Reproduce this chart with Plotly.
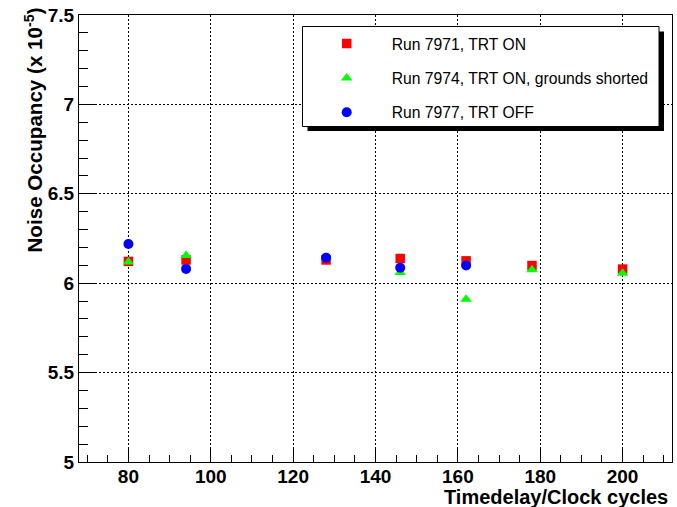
import plotly.graph_objects as go

# ---- data ----
x_7971 = [80, 94, 128, 146, 162, 178, 200]
y_7971 = [6.122, 6.130, 6.130, 6.138, 6.125, 6.099, 6.079]

x_7974 = [80, 94, 128, 146, 162, 178, 200]
y_7974 = [6.118, 6.155, 6.145, 6.060, 5.910, 6.075, 6.056]

x_7977 = [80, 94, 128, 146, 162]
y_7977 = [6.219, 6.080, 6.143, 6.086, 6.099]

names = ["Run 7971, TRT ON", "Run 7974, TRT ON, grounds shorted", "Run 7977, TRT OFF"]

W, H = 677, 507
L, R, T, B = 79, 5, 15, 45
PW, PH = W - L - R, H - T - B

def px(xp):
    return (xp - L) / PW

def py(yp):
    return (H - B - yp) / PH

FONT = "Liberation Sans, Arial, Helvetica, sans-serif"

fig = go.Figure()
fig.add_trace(go.Scatter(x=x_7971, y=y_7971, mode="markers", name=names[0], legendgroup="a",
                         marker=dict(symbol="square", size=9.5, color="#ff0000")))
fig.add_trace(go.Scatter(x=x_7974, y=y_7974, mode="markers", name=names[1], legendgroup="b",
                         marker=dict(symbol="triangle-up", size=10, color="#00ff00")))
fig.add_trace(go.Scatter(x=x_7977, y=y_7977, mode="markers", name=names[2], legendgroup="c",
                         marker=dict(symbol="circle", size=10, color="#0000ff")))

axis_common = dict(showline=True, linecolor="black", linewidth=1, mirror=True,
                   ticks="inside", tickcolor="black", tickwidth=1,
                   showgrid=True, gridcolor="black", gridwidth=1, griddash="2px,2px",
                   zeroline=False, automargin=False,
                   tickfont=dict(family=FONT, size=19, color="black", weight="bold"))

fig.update_xaxes(range=[68, 212], tick0=80, dtick=20, ticklen=13, ticklabelstandoff=-3,
                 minor=dict(ticks="inside", dtick=5, ticklen=7, tickcolor="black", showgrid=False),
                 **axis_common)
fig.update_yaxes(range=[5, 7.5], tick0=5, dtick=0.5, ticklen=18,
                 minor=dict(ticks="inside", dtick=0.1, ticklen=9, tickcolor="black", showgrid=False),
                 **axis_common)

# legend box with shadow
fig.add_shape(type="rect", xref="paper", yref="paper", layer="above",
              x0=px(307.5), x1=px(664), y0=py(131), y1=py(31.5),
              fillcolor="black", line=dict(width=0))
fig.add_shape(type="rect", xref="paper", yref="paper", layer="above",
              x0=px(302.5), x1=px(659), y0=py(126.5), y1=py(26.5),
              fillcolor="white", line=dict(color="black", width=1))

fig.add_annotation(text="Timedelay/Clock cycles", xref="paper", yref="paper",
                   x=px(670), y=py(497), xanchor="right", yanchor="middle", showarrow=False,
                   font=dict(family=FONT, size=20, color="black", weight="bold"))
fig.add_annotation(text="Noise Occupancy (x 10<sup>-5</sup>)", xref="paper", yref="paper",
                   x=px(33), y=py(130.5), xanchor="center", yanchor="middle", showarrow=False,
                   textangle=-90,
                   font=dict(family=FONT, size=20.6, color="black", weight="bold"))

fig.update_layout(
    width=W, height=H,
    margin=dict(l=L, r=R, t=T, b=B),
    paper_bgcolor="white", plot_bgcolor="white",
    showlegend=True,
    legend=dict(x=px(301.7), y=py(26.8), xanchor="left", yanchor="top",
                bgcolor="rgba(0,0,0,0)", borderwidth=0, tracegroupgap=11,
                itemwidth=80,
                font=dict(family=FONT, size=15.7, color="black")),
)

fig.write_html("out.html", config={"displayModeBar": False},
               post_script="document.body.style.margin='0';document.body.style.overflow='hidden';")
